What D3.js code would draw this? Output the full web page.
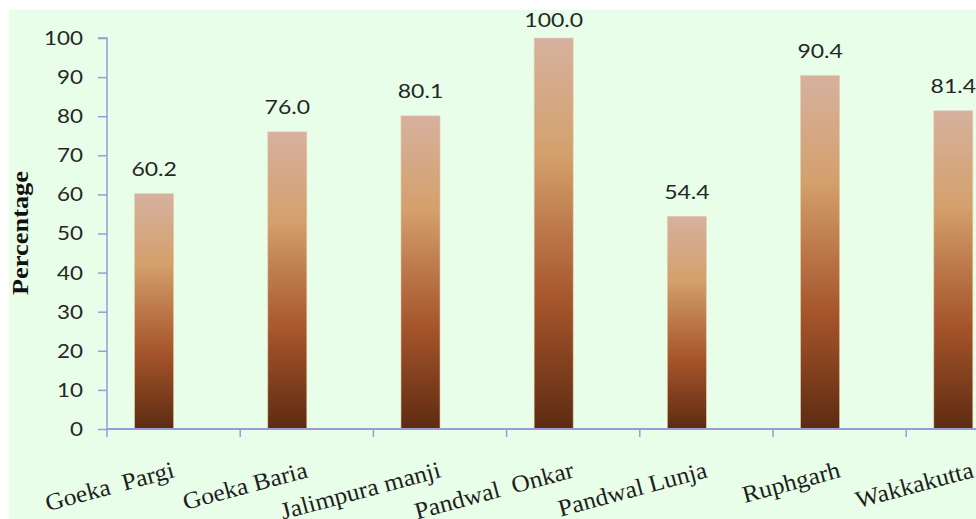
<!DOCTYPE html>
<html>
<head>
<meta charset="utf-8">
<script src="https://cdn.jsdelivr.net/npm/d3@7"></script>
<style>
html,body{margin:0;padding:0;background:#fff;}
svg{display:block;}
</style>
</head>
<body>
<svg id="chart" width="976" height="519"></svg>
<script>
const categories = ["Goeka  Pargi","Goeka Baria","Jalimpura manji","Pandwal  Onkar","Pandwal Lunja","Ruphgarh","Wakkakutta"];
const values = [60.2, 76.0, 80.1, 100.0, 54.4, 90.4, 81.4];
const yTicks = [0,10,20,30,40,50,60,70,80,90,100];
const yTitle = "Percentage";

const svg = d3.select("#chart");
const W = 976, H = 519;
const axisColor = "#9a9ad8";
const numFont = "Lato, 'Open Sans', sans-serif";
const serif = "'Liberation Serif', 'Times New Roman', serif";

// panel background
svg.append("rect").attr("x", 9).attr("y", 10).attr("width", W - 9).attr("height", H - 10).attr("fill", "#e8fee8");

const defs = svg.append("defs");
const grad = defs.append("linearGradient").attr("id", "barGrad")
  .attr("x1", 0).attr("y1", 0).attr("x2", 0).attr("y2", 1);
[[0, "#d6b19e"], [0.3, "#d4a06c"], [0.5, "#bb7749"], [0.68, "#a5542a"], [1, "#5d2b12"]]
  .forEach(([o, c]) => grad.append("stop").attr("offset", o).attr("stop-color", c));

const x0 = 107, step = 133.2;
const x = d3.scaleBand().domain(categories).range([x0, x0 + step * categories.length]).padding(0);
const y = d3.scaleLinear().domain([0, 100]).range([429, 38]);
const bw = x.bandwidth();
const barW = bw * 0.293;
const sx = 1.15;

// bars
svg.append("g").selectAll("rect").data(values).join("rect")
  .attr("x", (d, i) => x(categories[i]) + bw / 2 - barW)
  .attr("y", d => y(d))
  .attr("width", barW)
  .attr("height", d => y(0) - y(d))
  .attr("fill", "url(#barGrad)")
  .attr("stroke", "#e6cdb4").attr("stroke-width", 0.8).attr("stroke-opacity", 0.7);

// value labels
svg.append("g").selectAll("text").data(values).join("text")
  .attr("transform", (d, i) => `translate(${x(categories[i]) + bw / 2 - barW / 2},${Math.max(y(d) - 17.5, 27)}) scale(${sx},1)`)
  .attr("text-anchor", "middle")
  .attr("font-family", numFont)
  .attr("font-size", 20)
  .attr("fill", "#262626")
  .text(d => d.toFixed(1));

// y axis
const yAxis = d3.axisLeft(y).tickValues(yTicks).tickSize(9).tickFormat(d3.format("d"));
const gy = svg.append("g").attr("transform", `translate(${x0},0)`).call(yAxis);
gy.select(".domain").attr("stroke", axisColor).attr("stroke-width", 1.5).attr("d", `M-9,${y(100)}H0V${y(0)}`);
gy.selectAll(".tick line").attr("stroke", axisColor).attr("stroke-width", 1.5);
gy.selectAll(".tick text")
  .attr("x", null)
  .attr("transform", `translate(-24,0) scale(1.12,1)`)
  .attr("font-family", numFont).attr("font-size", 20).attr("fill", "#262626");

// x axis
const xTickPos = d3.range(categories.length).map(i => x(categories[i]));
const gx = svg.append("g");
gx.append("line").attr("x1", x0).attr("x2", W).attr("y1", y(0)).attr("y2", y(0))
  .attr("stroke", axisColor).attr("stroke-width", 2);
gx.selectAll("line.tk").data(xTickPos).join("line").attr("class", "tk")
  .attr("x1", d => d).attr("x2", d => d).attr("y1", y(0)).attr("y2", y(0) + 8)
  .attr("stroke", axisColor).attr("stroke-width", 1.5);

gx.selectAll("text").data(categories).join("text")
  .attr("transform", d => `translate(${x(d) + bw / 2 + 2},${477}) rotate(-15) scale(1.06,1)`)
  .attr("text-anchor", "end")
  .attr("font-family", serif)
  .attr("font-size", 24)
  .attr("fill", "#1e1e1e")
  .style("white-space", "pre")
  .text(d => d);

// y title
svg.append("text")
  .attr("transform", `translate(28,233) rotate(-90) scale(1.1,1)`)
  .attr("text-anchor", "middle")
  .attr("font-family", serif)
  .attr("font-weight", "bold")
  .attr("font-size", 24)
  .attr("fill", "#111")
  .text(yTitle);
</script>
</body>
</html>
